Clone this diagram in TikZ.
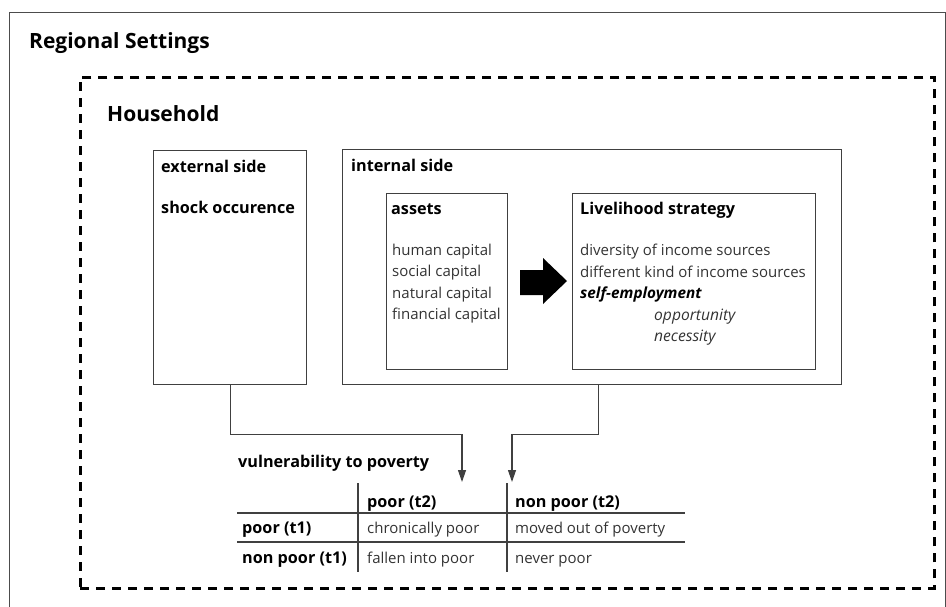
\documentclass[tikz,border=0pt]{standalone}
\usepackage{fontspec}
\setmainfont{Open Sans}
\usetikzlibrary{arrows.meta, positioning}

\begin{document}
\begin{tikzpicture}[x=1pt, y=-1pt, font=\fontsize{15}{18}\selectfont,
    box/.style={draw=black!75, line width=1.3pt, inner sep=0pt, anchor=north west},
    head/.style={anchor=base west, inner sep=0pt, font=\fontsize{16.2}{19}\selectfont\bfseries},
    txt/.style={anchor=base west, inner sep=0pt, text=black!80},
    link/.style={draw=black!75, line width=1.2pt, -{Triangle[length=12pt, width=8pt]}},
    rule/.style={draw=black!75, line width=1.1pt}]
    \useasboundingbox (0,0) rectangle (946,606);
    \clip (0,0) rectangle (946,606);

    % Regional Settings
    \node[box, draw=black!70, line width=1pt, minimum width=936pt, minimum height=620pt] (region) at (9,12) {};
    \node[head, font=\fontsize{21}{25}\selectfont\bfseries] (regtitle) at (29,48) {Regional Settings};

    % Household
    \node[box, draw=black, line width=2.5pt, dash pattern=on 9pt off 7pt, minimum width=854pt, minimum height=511pt] (house) at (79,76) {};
    \node[head, font=\fontsize{21}{25}\selectfont\bfseries] (housetitle) at (107,121) {Household};

    % external side
    \node[box, minimum width=153pt, minimum height=234pt] (ext) at (153,150) {};
    \node[head] (exttitle) at (161,172) {external side};
    \node[head] (shock) at (161,213) {shock occurence};

    % internal side
    \node[box, minimum width=499pt, minimum height=235pt] (int) at (342,149) {};
    \node[head] (inttitle) at (351,171) {internal side};

    \node[box, minimum width=121pt, minimum height=176pt] (assets) at (386,193) {};
    \node[head] (assetstitle) at (391,214) {assets};
    \foreach \t [count=\i] in {human capital, social capital, natural capital, financial capital} {
        \node[txt] (cap\i) at (392,233.5+\i*21.5) {\t};
    }

    \node[box, minimum width=243pt, minimum height=176pt] (strat) at (572,193) {};
    \node[head] (strattitle) at (580,214) {Livelihood strategy};
    \node[txt] (div) at (580,255) {diversity of income sources};
    \node[txt] (kind) at (580,277) {different kind of income sources};
    \node[head, font=\fontsize{15.3}{18}\selectfont\bfseries\itshape] (self) at (580,298) {self-employment};
    \node[txt, font=\fontsize{15.6}{18}\selectfont\itshape] (opp) at (654,320) {opportunity};
    \node[txt, font=\fontsize{15.6}{18}\selectfont\itshape] (nec) at (654,341) {necessity};

    % big arrow
    \fill[black] (520,270) -- (543,270) -- (543,258) -- (567,281) -- (543,304) -- (543,295) -- (520,295) -- cycle;

    % links to the table
    \coordinate (inpoor) at (462,482);
    \coordinate (innonpoor) at (512,482);
    \draw[link] (ext.south) -- ++(0,49) -| (inpoor);
    \draw[link] ([xshift=6.5pt]int.south) -- ++(0,49) -| (innonpoor);

    % vulnerability table
    \node[head] (vul) at (238,467) {vulnerability to poverty};
    \draw[rule] (237,513) -- (685,513);
    \draw[rule] (237,542) -- (685,542);
    \draw[rule] (358,483) -- (358,572);
    \draw[rule] (507,483) -- (507,572);
    \node[head] (col1) at (367,507) {poor (t2)};
    \node[head] (col2) at (515,507) {non poor (t2)};
    \node[head] (row1) at (242,533) {poor (t1)};
    \node[head] (row2) at (242,563) {non poor (t1)};
    \foreach \x/\y/\t [count=\i] in {367/533/chronically poor, 515/533/moved out of poverty,
                                     367/563/fallen into poor, 515/563/never poor} {
        \node[txt] (cell\i) at (\x,\y) {\t};
    }
\end{tikzpicture}
\end{document}
